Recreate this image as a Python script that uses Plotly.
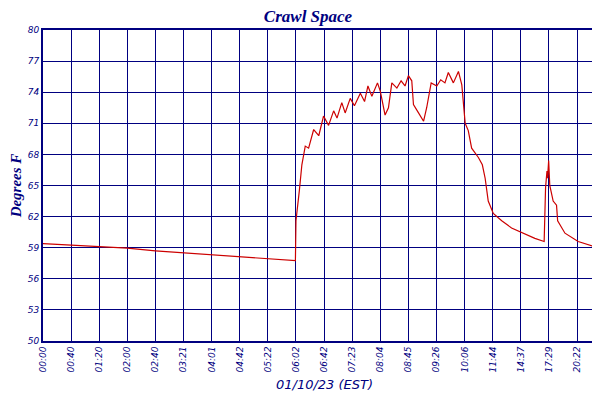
import plotly.graph_objects as go

tick_labels = ["00:00","00:40","01:20","02:00","02:40","03:21","04:01","04:42","05:22",
               "06:02","06:42","07:23","08:04","08:45","09:26","10:06","11:44","14:37",
               "17:29","20:22","23:15"]
y_ticks = [50,53,56,59,62,65,68,71,74,77,80]

# position along the (non-uniform) time axis, in tick-label units
pos = [0,1,2,3,4,5,6,7,8,8.98,
       9.0,9.04,9.12,9.21,9.33,9.45,9.63,9.81,9.98,10.16,10.34,10.46,10.63,10.75,10.93,
       11.08,11.29,11.44,11.56,11.70,11.90,12.00,12.17,12.29,12.41,12.59,12.74,12.88,
       13.00,13.12,13.18,13.36,13.54,13.65,13.81,14.01,14.15,14.30,14.42,14.60,14.78,
       14.90,14.97,15.02,15.13,15.25,15.49,15.63,15.73,15.84,16.02,16.32,16.67,17.15,
       17.50,17.83,17.88,17.93,17.95,17.99,18.03,18.15,18.27,18.31,18.57,19.04,19.63,20.0]
temp = [59.4,59.25,59.1,58.95,58.7,58.5,58.3,58.1,57.9,57.75,
        61.6,62.8,64.5,67.0,68.8,68.6,70.4,69.8,71.7,70.8,72.2,71.5,73.0,72.0,73.4,
        72.7,73.9,73.1,74.6,73.6,74.9,74.1,71.8,72.5,74.9,74.4,75.1,74.6,
        75.6,75.1,72.8,72.0,71.2,72.5,74.9,74.6,75.2,74.9,75.9,74.9,76.0,
        74.7,72.5,71.0,70.3,68.6,67.7,67.0,65.7,63.5,62.3,61.6,60.9,60.3,
        59.9,59.6,64.8,66.4,65.7,67.4,65.0,63.5,63.1,61.6,60.4,59.6,59.1,58.9]

navy = "#000080"
fig = go.Figure(go.Scatter(x=pos, y=temp, mode="lines", name="Crawl Space",
                           line=dict(color="#cc0000", width=1.2)))
fig.update_layout(
    width=600, height=400, paper_bgcolor="white", plot_bgcolor="white",
    margin=dict(l=35, r=2, t=22, b=67, autoexpand=False),
    title=dict(text="<b>Crawl Space</b>", x=0.5, xanchor="center", y=0.995, yanchor="top",
               font=dict(family="Liberation Serif", size=17, color=navy, style="italic")),
    showlegend=True,
    legend=dict(orientation="h", x=0.5, xanchor="center", y=-0.16, yanchor="top",
                font=dict(family="DejaVu Sans", size=11, color=navy, style="italic")),
    annotations=[dict(text="01/10/23 (EST)", x=0.5, y=-0.11, xref="paper", yref="paper",
                      xanchor="center", yanchor="top", showarrow=False,
                      font=dict(family="DejaVu Sans", size=13, color=navy, style="italic"))],
)
fig.update_xaxes(range=[0,20.03], tickmode="array", tickvals=list(range(len(tick_labels))),
                 ticktext=tick_labels, tickangle=-90, showgrid=True, gridcolor=navy, gridwidth=1,
                 showline=True, linecolor=navy, linewidth=2, mirror=True, ticks="",
                 automargin=False,
                 tickfont=dict(family="DejaVu Sans", size=9, color=navy, style="italic"))
fig.update_yaxes(range=[50,80], tickmode="array", tickvals=y_ticks, showgrid=True,
                 gridcolor=navy, gridwidth=1, showline=True, linecolor=navy, linewidth=2,
                 mirror=True, ticks="", zeroline=False, automargin=False,
                 tickfont=dict(family="DejaVu Sans", size=9, color=navy, style="italic"),
                 title=dict(text="<b>Degrees F</b>", standoff=2,
                            font=dict(family="Liberation Serif", size=15, color=navy, style="italic")))
fig.write_html("out.html")
